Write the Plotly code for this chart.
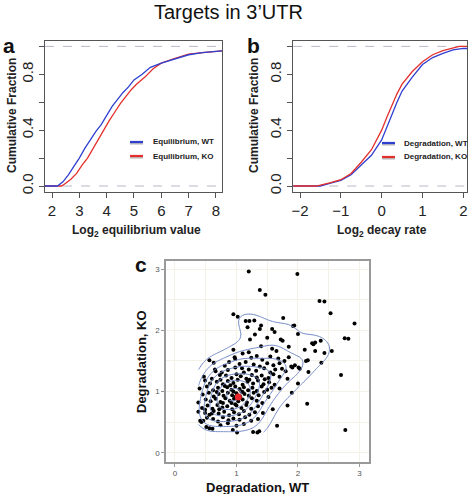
import numpy as np
import plotly.graph_objects as go

# ---------------- data ----------------
# Panel a: cumulative fraction curves (x = log2 equilibrium value, F = cumulative fraction)
eq_wt_x = [1.7, 2.2, 2.4, 2.6, 2.8, 3.0, 3.2, 3.4, 3.6, 3.8, 4.0, 4.2, 4.4, 4.6, 4.8, 5.0, 5.3, 5.6, 6.0, 6.5, 7.0, 7.5, 8.0, 8.3]
eq_wt_f = [0.0, 0.0, 0.03, 0.08, 0.14, 0.20, 0.27, 0.33, 0.39, 0.44, 0.51, 0.57, 0.62, 0.67, 0.71, 0.76, 0.80, 0.85, 0.88, 0.91, 0.94, 0.955, 0.965, 0.97]
eq_ko_x = [1.7, 2.35, 2.5, 2.7, 2.9, 3.1, 3.3, 3.5, 3.7, 3.9, 4.1, 4.3, 4.5, 4.7, 4.9, 5.1, 5.4, 5.7, 6.0, 6.5, 7.0, 7.5, 8.0, 8.3]
eq_ko_f = [0.0, 0.0, 0.02, 0.05, 0.09, 0.15, 0.20, 0.27, 0.33, 0.40, 0.47, 0.53, 0.59, 0.64, 0.69, 0.73, 0.78, 0.84, 0.88, 0.915, 0.945, 0.955, 0.965, 0.97]

# Panel b: cumulative fraction curves (x = log2 decay rate)
dg_wt_x = [-2.2, -1.5, -1.25, -1.0, -0.75, -0.5, -0.25, 0.0, 0.125, 0.25, 0.375, 0.5, 0.75, 1.0, 1.25, 1.5, 1.75, 2.0, 2.1]
dg_wt_f = [0.0, 0.0, 0.02, 0.04, 0.08, 0.15, 0.22, 0.33, 0.42, 0.52, 0.60, 0.68, 0.78, 0.87, 0.92, 0.95, 0.975, 0.985, 0.985]
dg_ko_x = [-2.2, -1.6, -1.25, -1.0, -0.75, -0.5, -0.25, 0.0, 0.125, 0.25, 0.375, 0.5, 0.75, 1.0, 1.25, 1.5, 1.75, 1.9, 2.1]
dg_ko_f = [0.0, 0.0, 0.025, 0.045, 0.09, 0.17, 0.26, 0.40, 0.49, 0.58, 0.66, 0.73, 0.82, 0.89, 0.94, 0.97, 0.99, 1.0, 1.0]

# Panel c: degradation WT vs KO (one point per target)
deg_wt = [
    1.20, 1.99,
    1.38, 1.47, 2.35, 2.43,
    0.95, 1.02, 1.76, 2.53,
    1.15, 1.21, 1.29, 1.40, 1.38, 1.18, 1.58, 1.62, 1.92, 1.94, 2.92,
    1.30, 2.00, 1.72, 1.75, 2.76, 2.82, 2.23, 2.25, 2.28, 2.37, 1.50, 1.22,
    0.95, 1.40, 1.58, 1.65, 1.85, 2.11, 2.28, 2.43, 2.55, 1.20, 1.10,
    0.97, 0.98, 0.56, 1.24, 1.42, 1.55, 1.68, 1.78, 2.13, 2.16, 1.85, 1.33,
    0.63, 0.81, 1.05, 1.15, 1.28, 1.38, 1.50, 1.60, 1.70, 1.95, 2.38, 0.88, 1.89,
    0.65, 0.66, 0.86, 0.98, 1.09, 1.20, 1.32, 1.45, 1.55, 1.63, 1.74, 1.80, 1.91, 2.01, 2.03, 2.17, 1.12, 0.76,
    0.47, 0.73, 0.83, 0.92, 1.00, 1.07, 1.16, 1.25, 1.33, 1.41, 1.52, 1.60, 1.70, 1.83, 2.70, 0.60, 1.46,
    0.49, 0.57, 0.68, 0.78, 0.86, 0.95, 1.02, 1.10, 1.18, 1.27, 1.35, 1.44, 1.53, 1.62, 2.00, 0.90, 1.21, 0.74,
    0.40, 0.52, 0.62, 0.70, 0.77, 0.85, 0.92, 0.98, 1.05, 1.12, 1.19, 1.26, 1.33, 1.41, 1.50, 1.57, 0.95, 1.08, 0.81, 1.70,
    0.45, 0.55, 0.63, 0.71, 0.79, 0.86, 0.93, 1.00, 1.06, 1.13, 1.20, 1.28, 1.36, 1.45, 1.90, 0.98, 1.10, 0.68, 1.52,
    0.38, 0.50, 0.58, 0.66, 0.74, 0.82, 0.89, 0.96, 1.03, 1.10, 1.17, 1.25, 1.33, 1.42, 2.15, 0.78, 0.92, 1.05,
    0.44, 0.53, 0.61, 0.69, 0.77, 0.85, 0.93, 1.00, 1.08, 1.16, 1.24, 1.35, 1.59, 1.83, 0.98, 0.72,
    0.38, 0.49, 0.49, 0.56, 0.63, 0.71, 0.80, 0.88, 0.96, 1.04, 1.12, 1.21, 1.30, 1.43, 0.60,
    0.41, 0.46, 0.52, 0.62, 0.70, 0.78, 0.87, 0.95, 1.05, 1.14, 1.24, 1.35,
    0.43, 0.51, 0.61, 0.74, 0.86, 1.00, 1.12, 1.66, 0.56,
    0.94, 1.01, 1.27, 1.34, 1.37, 2.77,
]
deg_ko = [
    2.96, 2.92,
    2.66, 2.58, 2.48, 2.47,
    2.26, 2.22, 2.20, 2.28,
    2.15, 2.15, 2.16, 2.08, 2.02, 2.05, 2.02, 1.97, 2.07, 2.08, 2.11,
    1.93, 1.94, 1.85, 1.83, 1.87, 1.86, 1.79, 1.77, 1.80, 1.83, 1.88, 1.85,
    1.68, 1.74, 1.70, 1.66, 1.73, 1.68, 1.66, 1.63, 1.66, 1.64, 1.62,
    1.56, 1.53, 1.51, 1.55, 1.52, 1.57, 1.54, 1.50, 1.50, 1.51, 1.56, 1.58,
    1.47, 1.42, 1.45, 1.48, 1.44, 1.41, 1.46, 1.43, 1.46, 1.43, 1.47, 1.48, 1.41,
    1.36, 1.33, 1.35, 1.39, 1.38, 1.36, 1.34, 1.38, 1.31, 1.36, 1.37, 1.33, 1.39, 1.39, 1.37, 1.32, 1.31, 1.31,
    1.24, 1.27, 1.26, 1.22, 1.28, 1.25, 1.21, 1.27, 1.23, 1.26, 1.22, 1.28, 1.24, 1.21, 1.27, 1.21, 1.20,
    1.18, 1.13, 1.16, 1.12, 1.17, 1.14, 1.19, 1.11, 1.16, 1.13, 1.18, 1.12, 1.15, 1.11, 1.13, 1.10, 1.19, 1.19,
    1.05, 1.08, 1.02, 1.06, 1.01, 1.07, 1.03, 1.08, 1.04, 1.07, 1.02, 1.06, 1.01, 1.08, 1.03, 1.06, 1.00, 1.00, 1.09, 1.05,
    0.95, 0.98, 0.92, 0.96, 0.93, 0.98, 0.94, 0.97, 0.92, 0.96, 0.93, 0.98, 0.94, 0.99, 0.98, 0.91, 0.99, 0.99, 0.91,
    0.82, 0.87, 0.84, 0.88, 0.83, 0.89, 0.85, 0.88, 0.84, 0.87, 0.82, 0.89, 0.85, 0.81, 0.80, 0.81, 0.81, 0.89,
    0.73, 0.77, 0.72, 0.78, 0.74, 0.76, 0.71, 0.77, 0.73, 0.78, 0.72, 0.76, 0.71, 0.77, 0.79, 0.71,
    0.67, 0.70, 0.65, 0.62, 0.68, 0.64, 0.67, 0.61, 0.66, 0.63, 0.68, 0.62, 0.66, 0.65, 0.64,
    0.52, 0.52, 0.57, 0.55, 0.51, 0.58, 0.53, 0.56, 0.54, 0.58, 0.52, 0.55,
    0.50, 0.42, 0.39, 0.45, 0.48, 0.44, 0.47, 0.44, 0.40,
    0.37, 0.33, 0.34, 0.33, 0.35, 0.37,
]
highlight_wt = [1.03]
highlight_ko = [0.91]

# ---------------- helpers ----------------
W, H = 472, 494


def px_x(p):
    return p / W


def px_y(p):
    return 1 - p / H


BLUE = "#2f3fd0"
RED = "#e3302c"
TICKFONT = dict(family="Liberation Sans, Arial", size=15, color="#222")
GRID_C = "#f4f2e6"
CONTOUR_C = "#6f86c4"

fig = go.Figure()

# ---- panel a ----
fig.add_trace(go.Scatter(x=eq_ko_x, y=eq_ko_f, mode="lines", line=dict(color=RED, width=1.3),
                         xaxis="x", yaxis="y", showlegend=False))
fig.add_trace(go.Scatter(x=eq_wt_x, y=eq_wt_f, mode="lines", line=dict(color=BLUE, width=1.3),
                         xaxis="x", yaxis="y", showlegend=False))
# ---- panel b ----
fig.add_trace(go.Scatter(x=dg_wt_x, y=dg_wt_f, mode="lines", line=dict(color=BLUE, width=1.3),
                         xaxis="x2", yaxis="y2", showlegend=False))
fig.add_trace(go.Scatter(x=dg_ko_x, y=dg_ko_f, mode="lines", line=dict(color=RED, width=1.3),
                         xaxis="x2", yaxis="y2", showlegend=False))

# ---- panel c: points + 2d density (kde2d-like) ----
xs = np.array(deg_wt)
ys = np.array(deg_ko)
n = len(xs)


def bw_nrd(v):
    q75, q25 = np.percentile(v, [75, 25])
    return 4 * 1.06 * min(np.std(v, ddof=1), (q75 - q25) / 1.34) * len(v) ** (-0.2)


hx, hy = bw_nrd(xs) / 4, bw_nrd(ys) / 4
gx = np.linspace(xs.min(), xs.max(), 100)
gy = np.linspace(ys.min(), ys.max(), 100)
ax_ = (gx[None, :] - xs[:, None]) / hx
ay_ = (gy[None, :] - ys[:, None]) / hy
kx = np.exp(-0.5 * ax_ ** 2) / np.sqrt(2 * np.pi)
ky = np.exp(-0.5 * ay_ ** 2) / np.sqrt(2 * np.pi)
Z = (ky.T @ kx) / (n * hx * hy)


def pretty_step(rng, nb=10):
    # nearest "nice" unit (1, 2, 5 x 10^k) to range / nb, like R's pretty()
    raw = rng / nb
    mag = 10 ** np.floor(np.log10(raw))
    cands = [m * mag for m in (1, 2, 5, 10)]
    return min(cands, key=lambda c: abs(np.log(c / raw)))


zmax = float(Z.max())
step = float(pretty_step(zmax))

# points on the base subplot
fig.add_trace(go.Scatter(x=deg_wt, y=deg_ko, mode="markers", xaxis="x3", yaxis="y3",
                         marker=dict(color="black", size=4), showlegend=False))
# density contours + highlighted point on an overlaying subplot so they are drawn above the points
fig.add_trace(go.Contour(x=gx, y=gy, z=Z, xaxis="x4", yaxis="y4", autocontour=False,
                         ncontours=int(zmax / step) + 2,
                         contours=dict(coloring="lines", start=step, end=step * int(zmax / step), size=step,
                                       showlabels=False),
                         colorscale=[[0, CONTOUR_C], [1, CONTOUR_C]], line=dict(width=1),
                         showscale=False, hoverinfo="skip"))
fig.add_trace(go.Scatter(x=highlight_wt, y=highlight_ko, mode="markers", xaxis="x4", yaxis="y4",
                         marker=dict(color="#e8262a", size=7), showlegend=False))

# ---------------- axes ----------------
base_r = dict(showgrid=False, zeroline=False, showline=True, linecolor="#555", linewidth=1, mirror=True,
              ticks="outside", ticklen=5, tickcolor="#555", tickfont=TICKFONT, automargin=False,
              ticklabeloverflow="allow")
ytick_r = dict(tickvals=[0, 0.2, 0.4, 0.6, 0.8, 1.0], ticktext=["0.0", " ", "0.4", " ", "0.8", " "], tickangle=-90)
c_axis = dict(tickvals=[0, 1, 2, 3], showgrid=True, gridcolor=GRID_C, gridwidth=1,
              minor=dict(dtick=0.5, tick0=0, showgrid=True, gridcolor=GRID_C, gridwidth=0.5),
              zeroline=False, showline=True, linecolor="#999", linewidth=1.5, mirror=True,
              ticks="outside", ticklen=3, tickcolor="#999", automargin=False,
              tickfont=dict(family="Liberation Sans, Arial", size=8, color="#555"))
X3_RANGE = [-0.146, 3.155]
Y3_RANGE = [-0.152, 3.132]

fig.update_layout(
    xaxis=dict(domain=[px_x(45), px_x(222)], range=[1.744, 8.22], anchor="y",
               tickvals=[2, 3, 4, 5, 6, 7, 8], **base_r),
    yaxis=dict(domain=[px_y(191.6), px_y(40.8)], range=[-0.04, 1.04], anchor="x", **ytick_r, **base_r),
    xaxis2=dict(domain=[px_x(293.3), px_x(467)], range=[-2.164, 2.09], anchor="y2",
                tickvals=[-2, -1, 0, 1, 2], **base_r),
    yaxis2=dict(domain=[px_y(191.6), px_y(40.8)], range=[-0.04, 1.04], anchor="x2", **ytick_r, **base_r),
    xaxis3=dict(domain=[px_x(166), px_x(369)], range=X3_RANGE, anchor="y3", **c_axis),
    yaxis3=dict(domain=[px_y(462), px_y(261)], range=Y3_RANGE, anchor="x3", **c_axis),
    xaxis4=dict(overlaying="x3", range=X3_RANGE, anchor="y4", visible=False, automargin=False),
    yaxis4=dict(overlaying="y3", range=Y3_RANGE, anchor="x4", visible=False, automargin=False),
    width=W, height=H, margin=dict(l=0, r=0, t=0, b=0, pad=0, autoexpand=False),
    paper_bgcolor="white", plot_bgcolor="white", showlegend=False,
)

# dashed reference lines at 0 and 1 in panels a and b
for xr, yr in (("x", "y"), ("x2", "y2")):
    for yv in (0, 1):
        fig.add_shape(type="line", xref=f"{xr} domain", yref=yr, x0=0, x1=1, y0=yv, y1=yv,
                      line=dict(color="#b8b8c8", width=1, dash="dash"), layer="below")

# ---------------- text ----------------
ann = []


def add_text(text, xp, yp, size, angle=0, xanchor="center", color="#222"):
    ann.append(dict(text=text, x=px_x(xp), y=px_y(yp), xref="paper", yref="paper",
                    xanchor=xanchor, yanchor="middle", textangle=angle, showarrow=False,
                    font=dict(family="Liberation Sans, Arial", size=size, color=color)))


add_text("Targets in 3\u2019UTR", 228, 12, 20, color="#111")
for lab, xp, yp in (("a", 9, 46), ("b", 253, 46), ("c", 141, 264)):
    add_text(f"<b>{lab}</b>", xp, yp, 21, color="#111")
add_text("<b>Cumulative Fraction</b>", 12, 116, 12, angle=-90)
add_text("<b>Cumulative Fraction</b>", 254, 116, 12, angle=-90)
add_text("<b>Log<sub>2</sub> equilibrium value</b>", 136, 231, 12)
add_text("<b>Log<sub>2</sub> decay rate</b>", 382, 231, 12)
add_text("<b>Degradation, WT</b>", 257, 487, 13, color="#111")
add_text("<b>Degradation, KO</b>", 141, 362, 13, angle=-90, color="#111")

# manual legends
for (x0, x1, tx, items) in ((130, 143, 151, [("Equilibrium, WT", BLUE, 142), ("Equilibrium, KO", RED, 156)]),
                            (382, 395, 402, [("Degradation, WT", BLUE, 143), ("Degradation, KO", RED, 157)])):
    for label, col, yy in items:
        fig.add_shape(type="line", xref="paper", yref="paper", x0=px_x(x0), x1=px_x(x1),
                      y0=px_y(yy + 0.8), y1=px_y(yy + 0.8), line=dict(color="#bbbbbb", width=3.5))
        fig.add_shape(type="line", xref="paper", yref="paper", x0=px_x(x0), x1=px_x(x1),
                      y0=px_y(yy), y1=px_y(yy), line=dict(color=col, width=2.2))
        add_text(f"<b>{label}</b>", tx, yy, 8, xanchor="left")

fig.update_layout(annotations=ann)
fig.write_html("out.html", config={"displayModeBar": False},
               post_script="document.body.style.margin='0';")
